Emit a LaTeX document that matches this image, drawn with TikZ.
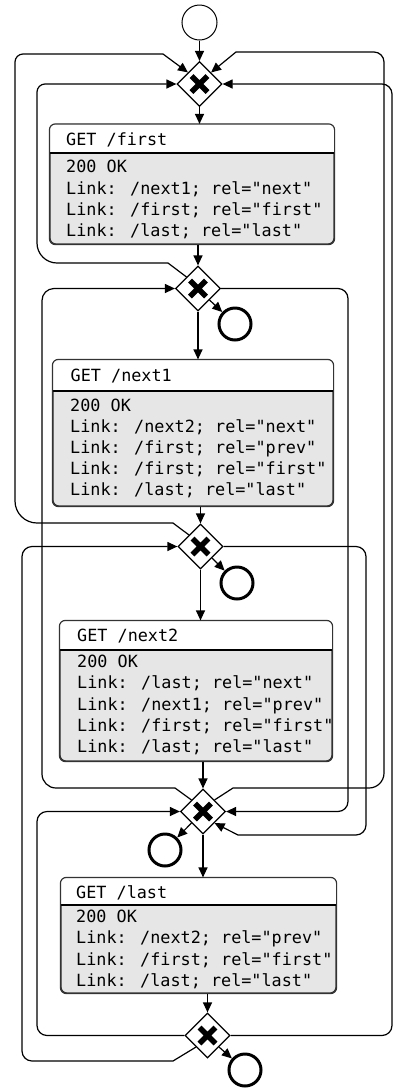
\documentclass[tikz,border=0pt]{standalone}
\usepackage{fontspec}
\newfontfamily\boxfont{DejaVu Sans Mono}
\usetikzlibrary{shapes.geometric,arrows.meta,calc}
\definecolor{boxgray}{HTML}{E6E6E6}
\definecolor{boxline}{HTML}{333333}
\newcommand{\httpbox}[5]{%
  \node[boxnode, minimum width=#3pt, minimum height=#4pt] (#1) at (#2) {};
  \begin{scope}
    \clip[rounded corners=6pt] (#1.north west) rectangle (#1.south east);
    \fill[white] (#1.north west) rectangle ($(#1.north east)+(0,#5)$);
  \end{scope}
  \draw[line width=2pt] ($(#1.north west)+(0,#5)$) -- ($(#1.north east)+(0,#5)$);
  \draw[boxline, line width=1.2pt, rounded corners=6pt] (#1.north west) rectangle (#1.south east);
}
\begin{document}
\begin{tikzpicture}[x=1pt,y=-1pt,
  conn/.style={line width=1.2pt, -{Triangle[length=10pt,width=9pt]}},
  gw/.style={diamond, draw, line width=1.2pt, fill=white, minimum width=45pt, minimum height=45pt, inner sep=0pt,
    path picture={\draw[line width=5.5pt]
      ($(path picture bounding box.center)+(-8pt,-8pt)$) -- ($(path picture bounding box.center)+(8pt,8pt)$)
      ($(path picture bounding box.center)+(-8pt,8pt)$) -- ($(path picture bounding box.center)+(8pt,-8pt)$);}},
  startev/.style={circle, draw, line width=1pt, minimum size=35pt, inner sep=0pt},
  endev/.style={circle, draw, line width=3pt, minimum size=32pt, inner sep=0pt},
  boxnode/.style={rectangle, draw=boxline, line width=1.2pt, fill=boxgray, rounded corners=6pt, inner sep=0pt},
  txt/.style={anchor=base west, inner sep=0pt, font=\boxfont\fontsize{16.8pt}{21pt}\selectfont}
]
\useasboundingbox (0,0) rectangle (395,1088);

% ---------- nodes ----------
\node[startev] (start) at (199.5,22.5) {};
\node[gw] (G1) at (199.5,84) {};
\node[gw] (G2) at (198,288.5) {};
\node[gw] (G3) at (200.5,546.5) {};
\node[gw] (G4) at (203,811.5) {};
\node[gw] (G5) at (207.5,1035.5) {};
\node[endev] (E1) at (235,324) {};
\node[endev] (E2) at (237,583) {};
\node[endev] (E3) at (165,850) {};
\node[endev] (E4) at (245,1070) {};

\httpbox{box1}{192,184.25}{284}{119.5}{29.5}
\httpbox{box2}{193,433}{280}{146}{32}
\httpbox{box3}{196,691}{272}{140}{30}
\httpbox{box4}{198.5,935.5}{275}{115}{28}

% texts
\node[txt] (b1h) at (66,145) {GET /first};
\node[txt] (b1a) at (66,172.7) {200 OK};
\node[txt] (b1b) at (66,194) {Link: /next1; rel="next"};
\node[txt] (b1c) at (66,215) {Link: /first; rel="first"};
\node[txt] (b1d) at (66,236) {Link: /last; rel="last"};

\node[txt] (b2h) at (70.5,381) {GET /next1};
\node[txt] (b2a) at (70,411.7) {200 OK};
\node[txt] (b2b) at (70,432.7) {Link: /next2; rel="next"};
\node[txt] (b2c) at (70,453.9) {Link: /first; rel="prev"};
\node[txt] (b2d) at (70,474.9) {Link: /first; rel="first"};
\node[txt] (b2e) at (70,495.7) {Link: /last; rel="last"};

\node[txt] (b3h) at (77,641) {GET /next2};
\node[txt] (b3a) at (77,667.7) {200 OK};
\node[txt] (b3b) at (77,688.9) {Link: /last; rel="next"};
\node[txt] (b3c) at (77,710.1) {Link: /next1; rel="prev"};
\node[txt] (b3d) at (77,731.2) {Link: /first; rel="first"};
\node[txt] (b3e) at (77,752.3) {Link: /last; rel="last"};

\node[txt] (b4h) at (76,898) {GET /last};
\node[txt] (b4a) at (76,922.5) {200 OK};
\node[txt] (b4b) at (76,943.8) {Link: /next2; rel="prev"};
\node[txt] (b4c) at (76,965.1) {Link: /first; rel="first"};
\node[txt] (b4d) at (76,986.4) {Link: /last; rel="last"};

% ---------- main flow ----------
\draw[conn] (start) -- (G1);
\draw[conn] (G1.south) -- (G1.south |- box1.north);
\draw[conn] (G2.north |- box1.south) -- (G2.north);
\draw[conn] (G2.south) -- (G2.south |- box2.north);
\draw[conn] (G3.north |- box2.south) -- (G3.north);
\draw[conn] (G3.south) -- (G3.south |- box3.north);
\draw[conn] (G4.north |- box3.south) -- (G4.north);
\draw[conn] (G4.south) -- (G4.south |- box4.north);
\draw[conn] (G5.north |- box4.south) -- (G5.north);

% to end events
\draw[conn] ($(G2.south)!0.5!(G2.east)$) -- (E1);
\draw[conn] ($(G3.south)!0.5!(G3.east)$) -- (E2);
\draw[conn] ($(G4.south)!0.5!(G4.west)$) -- (E3);
\draw[conn] ($(G5.south)!0.5!(G5.east)$) -- (E4);

% ---------- loop-backs ----------
\draw[conn] ($(G2.north)!0.5!(G2.west)$) -- (168,263) [rounded corners=20pt] -- (37,263) [rounded corners=8pt] -- (37,84) [sharp corners] -- (G1.west);
\draw[conn] ($(G3.north)!0.5!(G3.west)$) -- (173,523) [rounded corners=22pt] -- (15,523) [rounded corners=8pt] -- (15,54) [sharp corners] -- (163,54) -- ($(G1.north)!0.5!(G1.west)$);
\draw[conn] ($(G4.north)!0.5!(G4.west)$) -- (175,788) [rounded corners=14pt] -- (42,788) [rounded corners=12pt] -- (42,288.5) [sharp corners] -- (G2.west);
\draw[conn] ($(G5.south)!0.5!(G5.west)$) -- (173,1061) [rounded corners=10pt] -- (22,1061) -- (22,546.5) [sharp corners] -- (G3.west);
\draw[conn, rounded corners=10pt] (G5.west) -- (37,1035.5) -- (37,811.5) -- (G4.west);
\draw[conn, rounded corners=10pt] (G5.east) -- (392,1035.5) -- (392,84) -- (G1.east);
\draw[conn] ($(G4.north)!0.5!(G4.east)$) -- (233,788) [rounded corners=15pt] -- (384,788) [rounded corners=10pt] -- (384,52) [sharp corners] -- (236,52) -- ($(G1.north)!0.5!(G1.east)$);
\draw[conn, rounded corners=10pt] (G2.east) -- (348,288.5) -- (348,811.5) -- (G4.east);
\draw[conn] (G3.east) [rounded corners=10pt] -- (366,546.5) -- (366,835) [sharp corners] -- (238,835) -- ($(G4.south)!0.5!(G4.east)$);
\end{tikzpicture}
\end{document}
